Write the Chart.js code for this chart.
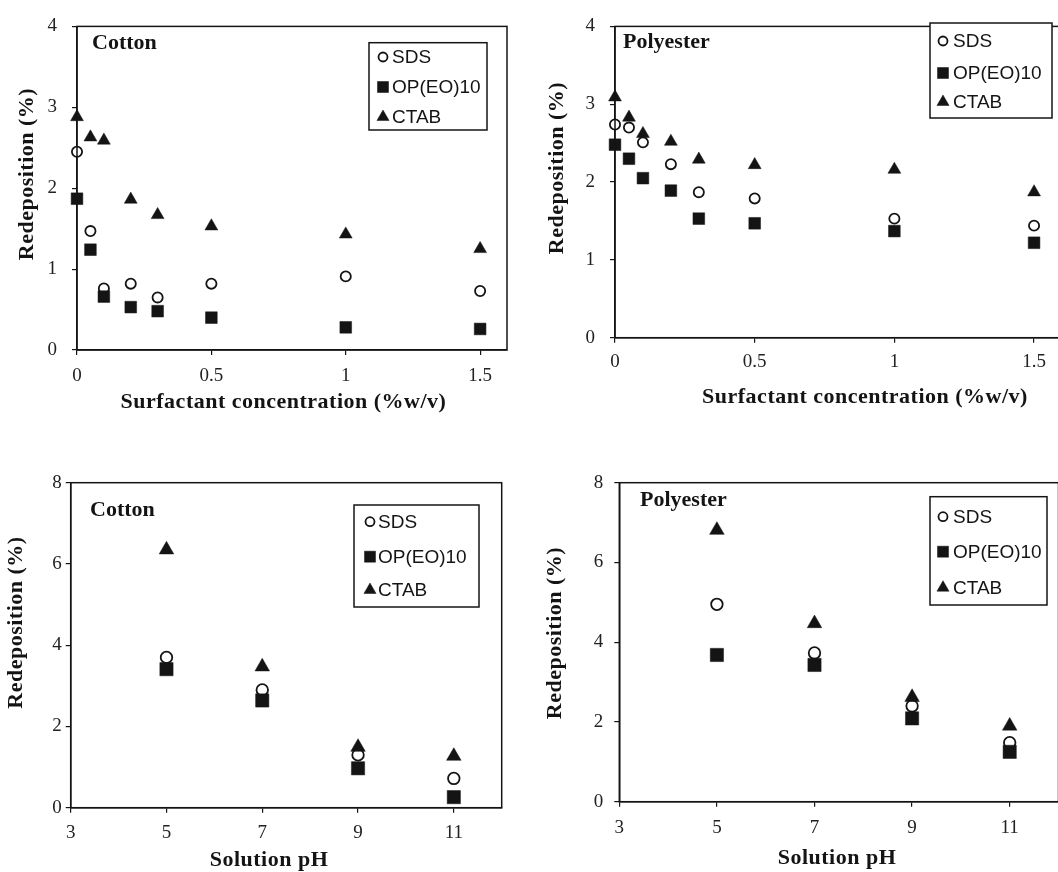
<!DOCTYPE html>
<html>
<head>
<meta charset="utf-8">
<script src="https://cdn.jsdelivr.net/npm/chart.js@4.4.1/dist/chart.umd.min.js"></script>
<style>
  html, body { margin: 0; padding: 0; background: #fff; overflow: hidden; }
  body { width: 1058px; height: 872px; position: relative; }
  canvas { position: absolute; }
</style>
</head>
<body>
<canvas id="c1" width="529" height="436" style="left:0;top:0"></canvas>
<canvas id="c2" width="545" height="436" style="left:529px;top:0"></canvas>
<canvas id="c3" width="529" height="436" style="left:0;top:436px"></canvas>
<canvas id="c4" width="545" height="436" style="left:529px;top:436px"></canvas>
<script>
// series / categories
const seriesNames = ['SDS', 'OP(EO)10', 'CTAB'];
const fabricNames = ['Cotton', 'Polyester'];
const xTitles = ['Surfactant concentration (%w/v)', 'Solution pH'];
const yTitle = 'Redeposition (%)';

// x values
const concLevels = [0, 0.05, 0.1, 0.2, 0.3, 0.5, 1, 1.5];
const phLevels = [5, 7, 9, 11];

// tick labels
const concTicks = [0, 0.5, 1, 1.5];
const phTicks = [3, 5, 7, 9, 11];
const redepTicksTop = [0, 1, 2, 3, 4];
const redepTicksBottom = [0, 2, 4, 6, 8];

// redeposition (%) vs surfactant concentration
const cottonConcSDS  = [2.45, 1.47, 0.76, 0.82, 0.65, 0.82, 0.91, 0.73];
const cottonConcOP   = [1.87, 1.24, 0.66, 0.53, 0.48, 0.40, 0.28, 0.26];
const cottonConcCTAB = [2.88, 2.63, 2.59, 1.86, 1.67, 1.53, 1.43, 1.25];
const polyConcSDS    = [2.74, 2.70, 2.51, 2.23, 1.87, 1.79, 1.53, 1.44];
const polyConcOP     = [2.48, 2.30, 2.05, 1.89, 1.53, 1.47, 1.37, 1.22];
const polyConcCTAB   = [3.09, 2.83, 2.62, 2.52, 2.29, 2.22, 2.16, 1.87];

// redeposition (%) vs pH
const cottonPhSDS  = [3.70, 2.90, 1.30, 0.72];
const cottonPhOP   = [3.41, 2.64, 0.97, 0.26];
const cottonPhCTAB = [6.35, 3.47, 1.49, 1.27];
const polyPhSDS    = [4.95, 3.73, 2.40, 1.48];
const polyPhOP     = [3.68, 3.43, 2.09, 1.25];
const polyPhCTAB   = [6.81, 4.47, 2.62, 1.90];

const ink = '#141414';
const serif = "'Liberation Serif', 'Times New Roman', serif";
const sans = "'Liberation Sans', Arial, sans-serif";

const markerStyles = [
  { shape: 'circle', radius: 4.8, fill: '#fff', border: 1.8 },
  { shape: 'rect', radius: 7.8, fill: ink, border: 0.5 },
  { shape: 'triangle', radius: 7, fill: ink, border: 0.5 }
];

function drawMarker(ctx, st, x, y, r) {
  ctx.save();
  ctx.beginPath();
  if (st.shape === 'circle') {
    ctx.arc(x, y, r, 0, Math.PI * 2);
  } else if (st.shape === 'rect') {
    const s = r * Math.SQRT1_2;
    ctx.rect(x - s, y - s, 2 * s, 2 * s);
  } else {
    ctx.moveTo(x, y - r);
    ctx.lineTo(x + r * 0.866, y + r * 0.5);
    ctx.lineTo(x - r * 0.866, y + r * 0.5);
    ctx.closePath();
  }
  ctx.fillStyle = st.fill;
  ctx.fill();
  ctx.lineWidth = st.border;
  ctx.strokeStyle = ink;
  ctx.stroke();
  ctx.restore();
}

const framePlugin = {
  id: 'frame',
  afterDatasetsDraw(chart) {
    const { ctx, chartArea: a } = chart;
    ctx.save();
    ctx.strokeStyle = ink;
    ctx.lineWidth = 1.5;
    ctx.strokeRect(a.left, a.top, a.right - a.left, a.bottom - a.top);
    ctx.restore();
  }
};

const textPlugin = {
  id: 'panelText',
  afterDraw(chart, args, o) {
    const ctx = chart.ctx;
    ctx.save();
    ctx.fillStyle = ink;
    ctx.textBaseline = 'middle';
    ctx.font = 'bold 22px ' + serif;
    ctx.textAlign = 'left';
    ctx.fillText(o.label, o.labelPos[0], o.labelPos[1]);
    ctx.letterSpacing = '0.5px';
    ctx.textAlign = 'center';
    ctx.fillText(o.xTitle, o.xTitlePos[0], o.xTitlePos[1]);
    ctx.translate(o.yTitlePos[0], o.yTitlePos[1]);
    ctx.rotate(-Math.PI / 2);
    ctx.fillText(o.yTitle, 0, 0);
    ctx.restore();
  }
};

const boxLegendPlugin = {
  id: 'boxLegend',
  afterDraw(chart, args, o) {
    const ctx = chart.ctx;
    ctx.save();
    ctx.fillStyle = '#fff';
    ctx.fillRect(o.x, o.y, o.w, o.h);
    ctx.strokeStyle = ink;
    ctx.lineWidth = 1.5;
    ctx.strokeRect(o.x, o.y, o.w, o.h);
    ctx.font = '19px ' + sans;
    ctx.textBaseline = 'middle';
    ctx.textAlign = 'left';
    chart.data.datasets.forEach((ds, i) => {
      const st = markerStyles[i];
      const r = st.shape === 'circle' ? 4.5 : st.radius;
      drawMarker(ctx, st, o.mx, o.rows[i], r);
      ctx.fillStyle = ink;
      ctx.fillText(ds.label, o.tx, o.rows[i] + 1);
    });
    ctx.restore();
  }
};

function makeChart(p) {
  const series = [p.sds, p.op, p.ctab];
  const datasets = series.map((vals, i) => ({
    label: seriesNames[i],
    data: vals.map((v, j) => ({ x: p.xs[j], y: v })),
    pointStyle: markerStyles[i].shape,
    pointRadius: markerStyles[i].radius * p.markerScale,
    pointHoverRadius: markerStyles[i].radius * p.markerScale,
    pointBackgroundColor: markerStyles[i].fill,
    pointBorderColor: ink,
    pointBorderWidth: markerStyles[i].border,
    order: 3 - i,
    clip: false
  }));
  const tickFont = { family: serif, size: 19 };
  return new Chart(document.getElementById(p.id), {
    type: 'scatter',
    data: { datasets: datasets },
    options: {
      responsive: false,
      animation: false,
      devicePixelRatio: 1,
      layout: { padding: { left: 0, top: p.area.top, right: p.W - p.area.right, bottom: 0 } },
      plugins: {
        legend: { display: false },
        tooltip: { enabled: false },
        panelText: { label: p.label, labelPos: p.labelPos, xTitle: p.xTitle, xTitlePos: p.xTitlePos, yTitle: yTitle, yTitlePos: p.yTitlePos },
        boxLegend: p.legend
      },
      scales: {
        x: {
          type: 'linear', min: p.xMin, max: p.xMax,
          afterFit: s => { s.height = p.H - p.area.bottom; },
          afterBuildTicks: s => { s.ticks = p.xTicks.map(v => ({ value: v })); },
          ticks: { font: tickFont, color: '#222', padding: p.xPad, maxRotation: 0, autoSkip: false,
                   callback: v => String(v) },
          grid: { drawOnChartArea: false, tickLength: 5, color: ink, lineWidth: 1.2 },
          border: { color: ink, width: 1.5 }
        },
        y: {
          type: 'linear', min: 0, max: p.yMax,
          afterFit: s => { s.width = p.area.left; },
          afterBuildTicks: s => { s.ticks = p.yTicks.map(v => ({ value: v })); },
          ticks: { font: tickFont, color: '#222', padding: p.yPad, callback: v => String(v) },
          grid: { drawOnChartArea: false, tickLength: 5, color: ink, lineWidth: 1.2 },
          border: { color: ink, width: 1.5 }
        }
      }
    },
    plugins: [framePlugin, textPlugin, boxLegendPlugin]
  });
}

makeChart({
  id: 'c1', W: 529, H: 436, xs: concLevels, markerScale: 1.06,
  sds: cottonConcSDS, op: cottonConcOP, ctab: cottonConcCTAB,
  xMin: 0, xMax: 1.6, xTicks: concTicks, yMax: 4, yTicks: redepTicksTop,
  label: fabricNames[0], xTitle: xTitles[0],
  area: { left: 77, top: 21, right: 507, bottom: 350 },
  yPad: 15, xPad: 9.6,
  labelPos: [92, 43], xTitlePos: [283.5, 402], yTitlePos: [27, 174],
  legend: { x: 369, y: 42.7, w: 118, h: 87.3, mx: 383, tx: 392, rows: [57, 87, 117] }
});

makeChart({
  id: 'c2', W: 545, H: 436, xs: concLevels, markerScale: 1.06,
  sds: polyConcSDS, op: polyConcOP, ctab: polyConcCTAB,
  xMin: 0, xMax: 1.6, xTicks: concTicks, yMax: 4, yTicks: redepTicksTop,
  label: fabricNames[1], xTitle: xTitles[0],
  area: { left: 86, top: 16, right: 533, bottom: 337.7 },
  yPad: 15, xPad: 7.6,
  labelPos: [94, 42], xTitlePos: [336, 397], yTitlePos: [28, 168],
  legend: { x: 401, y: 23, w: 122, h: 95, mx: 414, tx: 424, rows: [41, 73, 102] }
});

makeChart({
  id: 'c3', W: 529, H: 436, xs: phLevels, markerScale: 1.2,
  sds: cottonPhSDS, op: cottonPhOP, ctab: cottonPhCTAB,
  xMin: 3, xMax: 12, xTicks: phTicks, yMax: 8, yTicks: redepTicksBottom,
  label: fabricNames[0], xTitle: xTitles[1],
  area: { left: 70.7, top: 46.7, right: 501.7, bottom: 371.7 },
  yPad: 4, xPad: 8.6,
  labelPos: [90, 74], xTitlePos: [269, 424], yTitlePos: [16, 186.5],
  legend: { x: 354, y: 69, w: 125, h: 102, mx: 370, tx: 378, rows: [85.7, 120.7, 154] }
});

makeChart({
  id: 'c4', W: 545, H: 436, xs: phLevels, markerScale: 1.2,
  sds: polyPhSDS, op: polyPhOP, ctab: polyPhCTAB,
  xMin: 3, xMax: 12, xTicks: phTicks, yMax: 8, yTicks: redepTicksBottom,
  label: fabricNames[1], xTitle: xTitles[1],
  area: { left: 90.3, top: 46.7, right: 529.5, bottom: 365.7 },
  yPad: 11, xPad: 9.6,
  labelPos: [111, 64], xTitlePos: [308, 422], yTitlePos: [26, 197],
  legend: { x: 401, y: 60.7, w: 117, h: 108.3, mx: 414, tx: 424, rows: [80.7, 115.7, 151.7] }
});
</script>
</body>
</html>
